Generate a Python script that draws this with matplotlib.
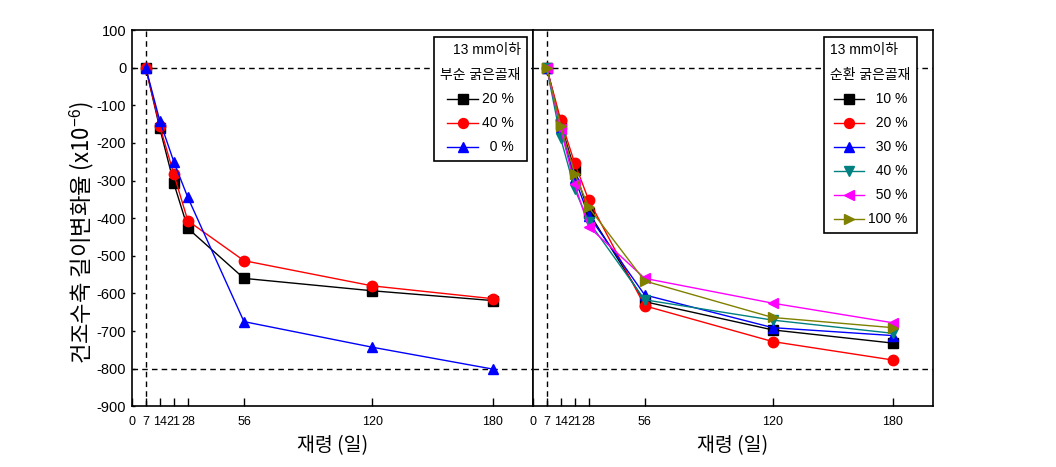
import matplotlib
matplotlib.use("Agg")
import matplotlib.pyplot as plt

plt.rcParams['font.family'] = ['Liberation Sans', 'Noto Sans CJK KR', 'DejaVu Sans']
plt.rcParams['mathtext.fontset'] = 'custom'
plt.rcParams['mathtext.rm'] = 'Liberation Sans'
plt.rcParams['mathtext.it'] = 'Liberation Sans'

days = [7, 14, 21, 28, 56, 120, 180]
xticks = [0, 7, 14, 21, 28, 56, 120, 180]
yticks = [100, 0, -100, -200, -300, -400, -500, -600, -700, -800, -900]

# Left panel: 13 mm 이하 부순 굵은골재
left_labels = ["20 %", "40 %", "0 %"]
left_20 = [0, -161, -307, -427, -560, -593, -619]
left_40 = [0, -155, -283, -407, -513, -580, -614]
left_0 = [0, -141, -250, -345, -675, -743, -801]

# Right panel: 13 mm 이하 순환 굵은골재
right_labels = ["10 %", "20 %", "30 %", "40 %", "50 %", "100 %"]
right_10 = [0, -150, -272, -385, -622, -697, -732]
right_20 = [0, -139, -254, -352, -633, -728, -777]
right_30 = [0, -160, -294, -394, -604, -691, -712]
right_40 = [0, -188, -323, -409, -617, -671, -706]
right_50 = [0, -163, -310, -423, -560, -626, -678]
right_100 = [0, -155, -282, -371, -567, -664, -691]

def pad(labels):
    n = max(len(l) for l in labels)
    return ["  " * (n - len(l)) + l for l in labels]

fig = plt.figure(figsize=(10.56, 4.67), dpi=100)
W, H = 1056, 467
axL = fig.add_axes([131.7 / W, (H - 406.3) / H, (532.7 - 131.7) / W, (406.3 - 30) / H])
axR = fig.add_axes([532.7 / W, (H - 406.3) / H, (932.7 - 532.7) / W, (406.3 - 30) / H])

def style(ax, show_y):
    ax.set_xlim(0, 200)
    ax.set_ylim(-900, 100)
    ax.set_xticks(xticks)
    ax.set_xticklabels([str(t) for t in xticks], fontsize=9)
    ax.set_yticks(yticks)
    if show_y:
        ax.set_yticklabels([str(t) for t in yticks], fontsize=10.5)
        ax.tick_params(axis='y', direction='in', length=2, width=1, pad=4)
    else:
        ax.set_yticklabels([])
        ax.tick_params(axis='y', length=0)
    ax.tick_params(axis='x', direction='in', length=6, width=1, pad=7)
    for s in ax.spines.values():
        s.set_linewidth(1.2)
    ax.axhline(0, color='black', ls=(0, (4, 3)), lw=1, zorder=1)
    ax.axhline(-800, color='black', ls=(0, (4, 3)), lw=1, zorder=1)
    ax.axvline(7, color='black', ls=(0, (4, 3)), lw=1, zorder=1)
    ax.set_xlabel("재령 (일)", fontsize=14, family=['Noto Sans CJK KR'], labelpad=5)

style(axL, True)
style(axR, False)

ms = 7.5
lL = pad(left_labels)
axL.plot(days, left_20, color='black', marker='s', ms=ms, lw=1, label=lL[0])
axL.plot(days, left_40, color='red', marker='o', ms=ms, lw=1, label=lL[1])
axL.plot(days, left_0, color='blue', marker='^', ms=ms, lw=1, label=lL[2])

rs = [right_10, right_20, right_30, right_40, right_50, right_100]
rc = ['black', 'red', 'blue', '#008080', 'magenta', '#808000']
rm = ['s', 'o', '^', 'v', '<', '>']
for vals, c, m, lab in zip(rs, rc, rm, pad(right_labels)):
    axR.plot(days, vals, color=c, marker=m, ms=ms, lw=1, label=lab)

common = dict(fontsize=10, title_fontsize=10, frameon=True, fancybox=False,
              edgecolor='black', handlelength=2.2, borderpad=0.45, labelspacing=0.72,
              borderaxespad=0.0, framealpha=1, markerscale=0.95)
legL = axL.legend(title="13 mm이하\n부순 굵은골재", loc='upper right', bbox_to_anchor=(0.986, 0.981),
                  handletextpad=0.3, **common)
legL.get_frame().set_linewidth(1.2)
legL.get_title().set_multialignment('right')
legL.get_title().set_linespacing(2.0)

legR = axR.legend(title="13 mm이하\n순환 굵은골재", loc='upper right', bbox_to_anchor=(0.961, 0.981),
                  handletextpad=0.25, **common)
legR.get_frame().set_linewidth(1.2)
legR.get_title().set_multialignment('left')
legR.get_title().set_linespacing(2.0)

fig.text(82 / W, 1 - 232 / H, "건조수축 길이변화율 (x10$^{-6}$)", rotation=90, ha='center', va='center',
         fontsize=16, family=['Noto Sans CJK KR', 'DejaVu Sans'])

fig.savefig("out.png", dpi=100)
